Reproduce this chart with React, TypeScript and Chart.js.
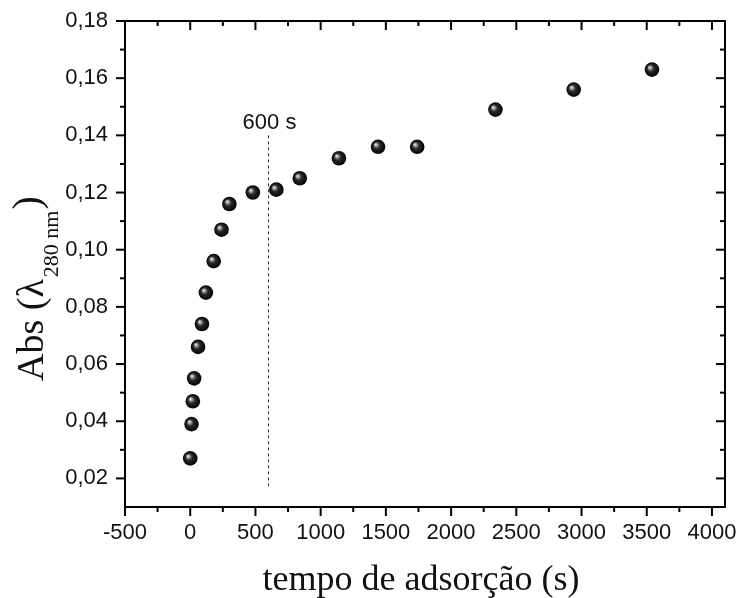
import React, { useEffect, useRef } from 'react';
import { Chart, registerables } from 'chart.js';

Chart.register(...registerables);

// ---- data ----
const timeSeconds = [0, 10, 20, 30, 60, 90, 120, 180, 240, 300, 480, 660, 840, 1140, 1440, 1740, 2340, 2940, 3540];
const absorbance = [0.027, 0.039, 0.047, 0.055, 0.066, 0.074, 0.085, 0.096, 0.107, 0.116, 0.120, 0.121, 0.125, 0.132, 0.136, 0.136, 0.149, 0.156, 0.163];

// ---- axes ----
const xMin = -500;
const xMax = 4100;
const yMin = 0.01;
const yMax = 0.18;
const xMajorTicks = [-500, 0, 500, 1000, 1500, 2000, 2500, 3000, 3500, 4000];
const xMinorTicks = [-250, 250, 750, 1250, 1750, 2250, 2750, 3250, 3750];
const yMajorTicks = [0.02, 0.04, 0.06, 0.08, 0.10, 0.12, 0.14, 0.16, 0.18];
const yMinorTicks = [0.03, 0.05, 0.07, 0.09, 0.11, 0.13, 0.15, 0.17];

// ---- annotation ----
const markerTime = 600;
const markerTop = 0.14;
const markerBottom = 0.0165;
const markerLabel = '600 s';

const xTitle = 'tempo de adsorção (s)';
const yTitleMain = 'Abs (';
const yTitleSymbol = 'λ';
const yTitleSub = '280 nm';
const yTitleEnd = ')';

const sansFont = '"Liberation Sans", Arial, sans-serif';
const serifFont = '"Liberation Serif", "Times New Roman", serif';

const fmt = (v: number) => v.toFixed(2).replace('.', ',');

const framePlugin = {
  id: 'framePlugin',
  afterDatasetsDraw(chart: any) {
    const { ctx, chartArea: a, scales } = chart;
    const xs = scales.x;
    const ys = scales.y;
    ctx.save();
    ctx.strokeStyle = '#000';
    ctx.lineWidth = 2;
    ctx.strokeRect(a.left, a.top, a.right - a.left, a.bottom - a.top);

    ctx.lineWidth = 2;
    const seg = (x1: number, y1: number, x2: number, y2: number) => {
      ctx.beginPath();
      ctx.moveTo(x1, y1);
      ctx.lineTo(x2, y2);
      ctx.stroke();
    };
    xMajorTicks.forEach((v) => {
      const px = xs.getPixelForValue(v);
      seg(px, a.bottom, px, a.bottom + 9);
      seg(px, a.top, px, a.top + 9);
    });
    xMinorTicks.forEach((v) => {
      const px = xs.getPixelForValue(v);
      seg(px, a.bottom, px, a.bottom + 5);
      seg(px, a.top, px, a.top + 5);
    });
    yMajorTicks.forEach((v) => {
      const py = ys.getPixelForValue(v);
      seg(a.left - 9, py, a.left, py);
      seg(a.right - 9, py, a.right, py);
    });
    yMinorTicks.forEach((v) => {
      const py = ys.getPixelForValue(v);
      seg(a.left - 5, py, a.left, py);
      seg(a.right - 5, py, a.right, py);
    });

    // dashed marker line
    const mx = Math.round(xs.getPixelForValue(markerTime)) + 0.5;
    ctx.strokeStyle = '#333';
    ctx.lineWidth = 1;
    ctx.setLineDash([3, 3]);
    seg(mx, ys.getPixelForValue(markerTop), mx, ys.getPixelForValue(markerBottom));
    ctx.setLineDash([]);

    ctx.fillStyle = '#111';
    ctx.font = `22px ${sansFont}`;
    ctx.textAlign = 'center';
    ctx.textBaseline = 'alphabetic';
    ctx.fillText(markerLabel, mx + 1, ys.getPixelForValue(markerTop) - 6);

    // x title
    ctx.font = `36px ${serifFont}`;
    ctx.textAlign = 'center';
    ctx.fillText(xTitle, 421, 590);

    // y title with subscript
    ctx.translate(43, 381);
    ctx.rotate(-Math.PI / 2);
    ctx.textAlign = 'left';
    let cx = 0;
    ctx.font = `38px ${serifFont}`;
    ctx.fillText(yTitleMain, cx, 0);
    cx += ctx.measureText(yTitleMain).width;
    ctx.fillText(yTitleSymbol, cx, 0);
    cx += ctx.measureText(yTitleSymbol).width + 2;
    ctx.font = `22px ${serifFont}`;
    ctx.fillText(yTitleSub, cx, 15);
    cx += ctx.measureText(yTitleSub).width + 1;
    ctx.font = `40px ${serifFont}`;
    ctx.fillText(yTitleEnd, cx, -3);
    ctx.restore();
  },
};

export default function App() {
  const canvasRef = useRef<HTMLCanvasElement | null>(null);

  useEffect(() => {
    document.body.style.margin = '0';
    const canvas = canvasRef.current;
    if (!canvas) return;

    const sphere = (c: any) => {
      if (c.type !== 'data') return '#000';
      const chart = c.chart;
      const xs = chart.scales.x;
      const ys = chart.scales.y;
      if (!xs || !ys || !c.parsed) return '#000';
      const px = xs.getPixelForValue(c.parsed.x);
      const py = ys.getPixelForValue(c.parsed.y);
      if (!isFinite(px) || !isFinite(py)) return '#000';
      const g = chart.ctx.createRadialGradient(px - 2.5, py - 2.5, 0, px, py, 7.5);
      g.addColorStop(0, '#f4f4f4');
      g.addColorStop(0.18, '#a8a8a8');
      g.addColorStop(0.45, '#2a2a2a');
      g.addColorStop(1, '#000');
      return g;
    };

    const chart = new Chart(canvas, {
      type: 'scatter',
      data: {
        datasets: [
          {
            data: timeSeconds.map((t, i) => ({ x: t, y: absorbance[i] })),
            pointRadius: 7.3,
            pointBorderWidth: 0,
            pointBackgroundColor: sphere as any,
            pointBorderColor: 'rgba(0,0,0,0)',
          },
        ],
      },
      options: {
        responsive: false,
        animation: false,
        devicePixelRatio: 1,
        events: [],
        layout: { padding: { top: 21, right: 14, bottom: 0, left: 0 } },
        plugins: { legend: { display: false }, tooltip: { enabled: false } },
        scales: {
          x: {
            type: 'linear',
            min: xMin,
            max: xMax,
            afterBuildTicks: (s: any) => {
              s.ticks = xMajorTicks.map((v) => ({ value: v }));
            },
            afterFit: (s: any) => {
              s.height = 91;
              s.paddingLeft = 0;
              s.paddingRight = 0;
            },
            grid: { display: true, drawOnChartArea: false, tickLength: 10, color: 'rgba(0,0,0,0)' },
            border: { display: false },
            ticks: {
              padding: 3,
              maxRotation: 0,
              autoSkip: false,
              color: '#111',
              font: { family: sansFont, size: 22 },
              callback: (v: any) => String(v),
            },
          },
          y: {
            type: 'linear',
            min: yMin,
            max: yMax,
            afterBuildTicks: (s: any) => {
              s.ticks = yMajorTicks.map((v) => ({ value: v }));
            },
            afterFit: (s: any) => {
              s.width = 125;
              s.paddingTop = 0;
              s.paddingBottom = 0;
            },
            grid: { display: true, drawOnChartArea: false, tickLength: 10, color: 'rgba(0,0,0,0)' },
            border: { display: false },
            ticks: {
              padding: 7,
              autoSkip: false,
              color: '#111',
              font: { family: sansFont, size: 22 },
              callback: (v: any) => fmt(Number(v)),
            },
          },
        },
      },
      plugins: [framePlugin],
    });

    return () => chart.destroy();
  }, []);

  return (
    <div style={{ width: 739, height: 598 }}>
      <canvas ref={canvasRef} width={739} height={598} style={{ display: 'block' }} />
    </div>
  );
}
